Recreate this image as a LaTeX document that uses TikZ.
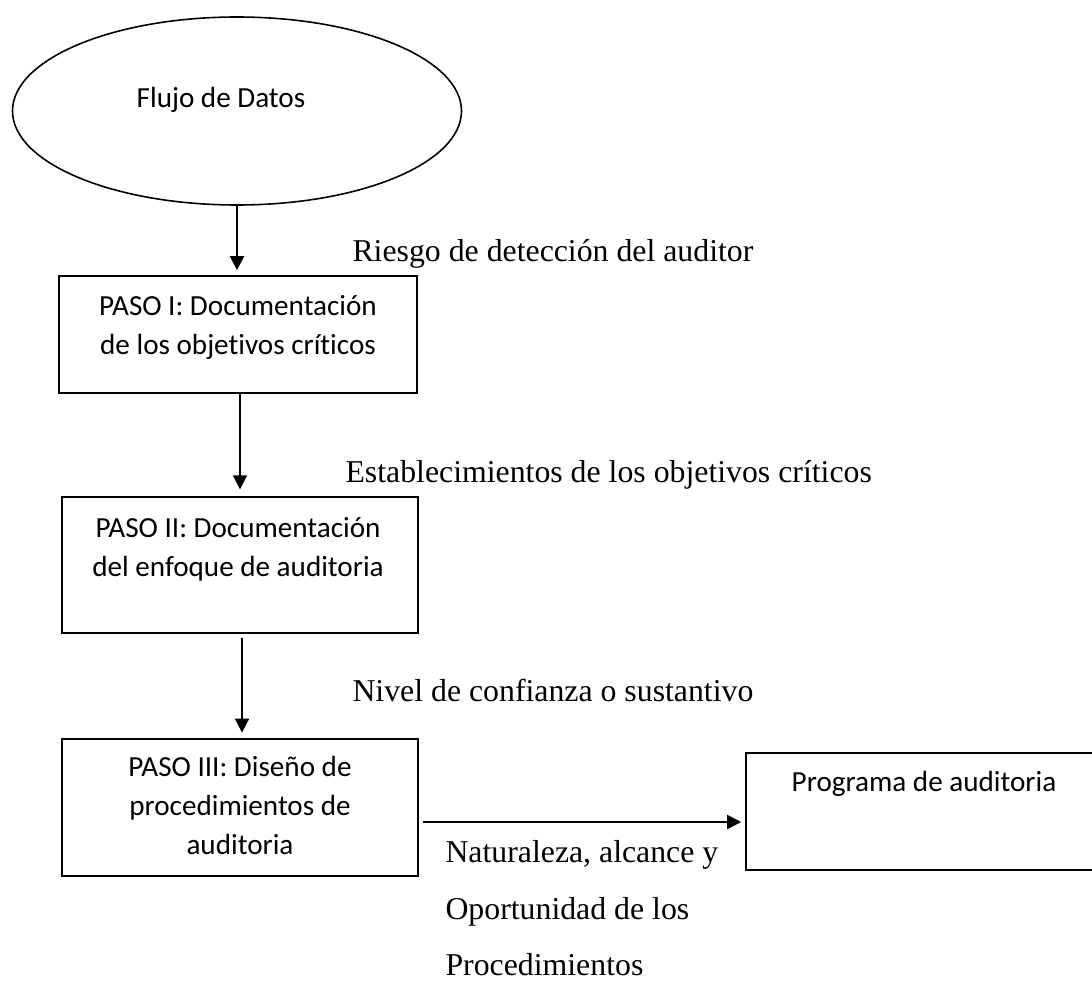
\documentclass[tikz,border=0pt]{standalone}
\usepackage{fontspec}
\usetikzlibrary{arrows.meta,shapes.geometric}
\newfontfamily\calib[Ligatures=NoCommon]{Carlito}
\newfontfamily\tnr{Liberation Serif}
% one drawing unit
\def\px{0.3774pt}
\tikzset{
  outline/.style={draw=black, line width=0.6pt},
  boxnode/.style={outline, rectangle, inner sep=0pt},
  boxtext/.style={inner sep=0pt, align=center, font=\calib\fontsize{11}{14.9}\selectfont},
  note/.style={inner sep=0pt, anchor=base west, align=left, font=\tnr\fontsize{12}{21.5}\selectfont},
  flow/.style={draw=black, line width=0.65pt, -{Triangle[length=5.3pt,width=5.3pt]}}
}
\begin{document}
\begin{tikzpicture}[x=\px,y=-\px]
\path[use as bounding box] (0,0) rectangle (1092,981);
\clip (0,0) rectangle (1092,981);

% start of the flow
\node[outline, ellipse, inner sep=0pt, minimum width=449*\px, minimum height=188*\px] (flujo) at (237,111) {};
\node[boxtext, anchor=base] (flujotxt) at (221,108) {Flujo de Datos};

% the three steps (base anchors sit on the last text line)
\node[boxnode, minimum width=358*\px, minimum height=117*\px] (b1) at (238,334.5) {};
\node[boxtext, anchor=base] (t1) at (238,355) {PASO I: Documentación\\de los objetivos críticos};

\node[boxnode, minimum width=356*\px, minimum height=136*\px] (b2) at (240,565) {};
\node[boxtext, anchor=base] (t2) at (238,577) {PASO II: Documentación\\del enfoque de auditoria};

\node[boxnode, minimum width=356*\px, minimum height=137*\px] (b3) at (240,807.5) {};
\node[boxtext, anchor=base] (t3) at (240,855) {PASO III: Diseño de\\procedimientos de\\auditoria};

% result
\node[boxnode, minimum width=354*\px, minimum height=117*\px] (prog) at (923,811.5) {};
\node[boxtext, anchor=base] (t4) at (924,792) {Programa de auditoria};

% connectors
\draw[flow, shorten >=1.9pt] (flujo.south) -- (flujo.south |- b1.north);
\draw[flow, shorten >=2.6pt] (b2.north |- b1.south) -- (b2.north);
\draw[flow, shorten <=1.5pt, shorten >=2.1pt] ([xshift=2*\px]b2.south) -- ([xshift=2*\px]b3.north);
\coordinate (c4) at (0,822);
\draw[flow, shorten <=1.5pt, shorten >=1.5pt] (b3.east |- c4) -- (prog.west |- c4);

% annotations
\node[note] (riesgo) at (352,262) {Riesgo de detección del auditor};
\node[note] (estab) at (345,483) {Establecimientos de los objetivos críticos};
\node[note] (nivel) at (352,702) {Nivel de confianza o sustantivo};
\node[note] (natur) at (445,976) {Naturaleza, alcance y\\Oportunidad de los\\Procedimientos};
\end{tikzpicture}
\end{document}
